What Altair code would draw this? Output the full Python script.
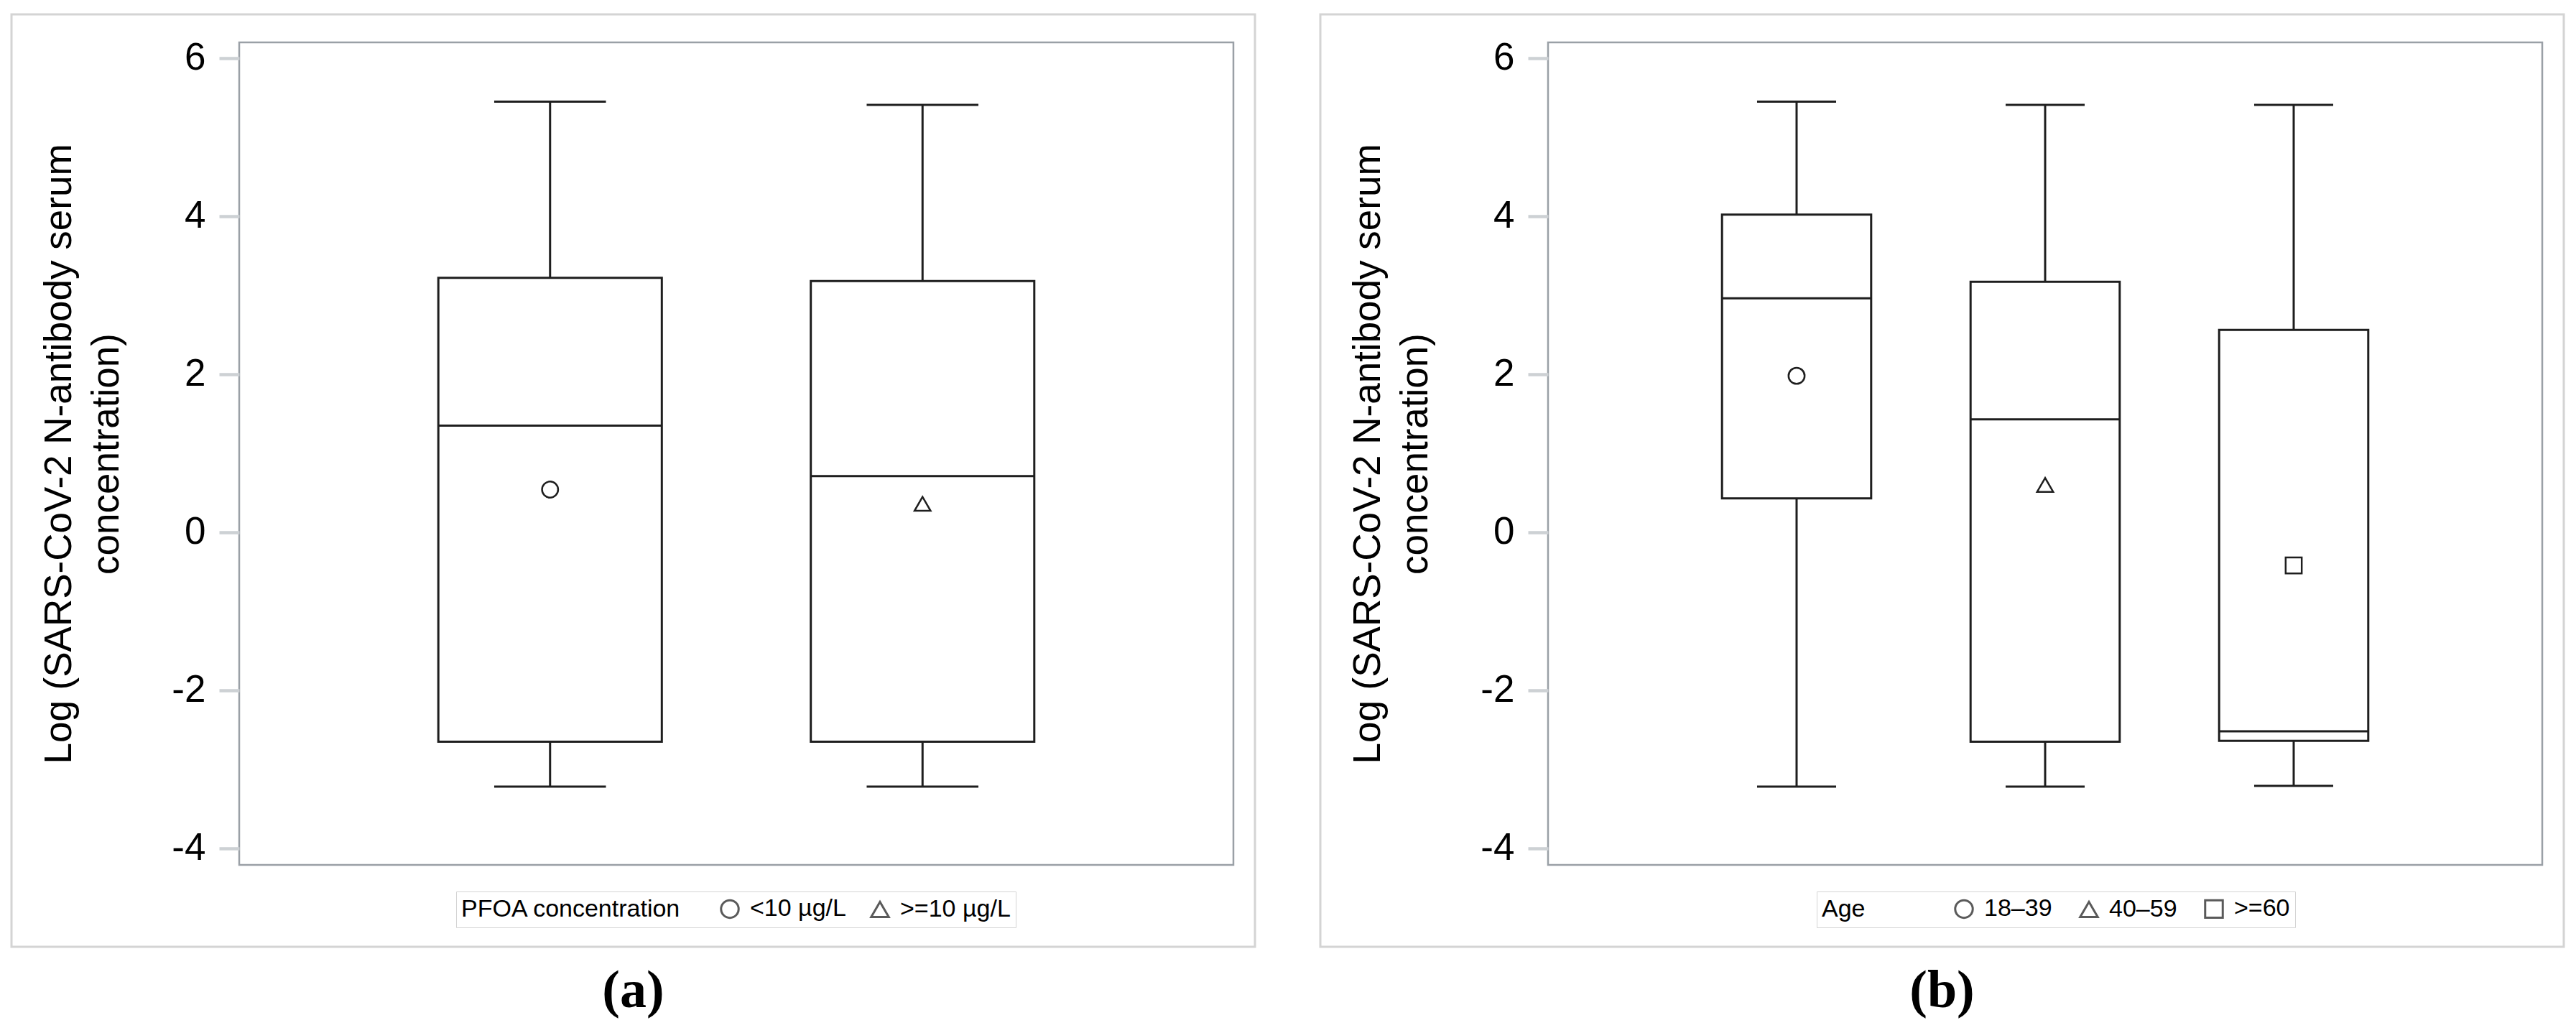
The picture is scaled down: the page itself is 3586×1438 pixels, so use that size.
import altair as alt
import pandas as pd

# ---------------- data ----------------
# Panel (a): PFOA concentration groups
pfoa_groups = ["<10 µg/L", ">=10 µg/L"]
pfoa_low = [-3.22, -3.22]
pfoa_q1 = [-2.65, -2.65]
pfoa_median = [1.35, 0.71]
pfoa_mean = [0.54, 0.36]
pfoa_q3 = [3.22, 3.18]
pfoa_high = [5.45, 5.41]

# Panel (b): age groups
age_groups = ["18–39", "40–59", ">=60"]
age_low = [-3.22, -3.22, -3.21]
age_q1 = [0.43, -2.65, -2.64]
age_median = [2.96, 1.43, -2.52]
age_mean = [1.98, 0.60, -0.42]
age_q3 = [4.02, 3.17, 2.56]
age_high = [5.45, 5.41, 5.41]

y_ticks = [-4, -2, 0, 2, 4, 6]
y_title = ["Log (SARS-CoV-2 N-antibody serum", "concentration)"]

# ---------------- styling ----------------
W, H = 1384, 1145
Y_DOMAIN = [-4.21, 6.2]
SANS = "Liberation Sans, Arial, Helvetica, sans-serif"
SERIF = "Liberation Serif, Times New Roman, serif"
LINE = "#1e1e1e"
PAD_INNER = 0.4


def panel(groups, low, q1, med, mean, q3, high, shapes, pad_outer,
          legend_title, legend_x, legend_title_pad, legend_col_pad,
          cap_frac, label):
    df = pd.DataFrame({"group": groups, "low": low, "q1": q1, "median": med,
                       "mean": mean, "q3": q3, "high": high})
    n = len(groups)
    step = W / (n - PAD_INNER + 2 * pad_outer)
    box_w = step * (1 - PAD_INNER)
    cap_w = box_w * cap_frac

    xenc = alt.X("group:N", sort=groups,
                 scale=alt.Scale(domain=groups, paddingInner=PAD_INNER,
                                 paddingOuter=pad_outer),
                 axis=None)
    yscale = alt.Scale(domain=Y_DOMAIN, nice=False, zero=False)
    yaxis = alt.Axis(values=y_ticks, grid=False, domain=False,
                     tickColor="#cdd1d4", tickWidth=4.5, tickSize=28,
                     labelFont=SANS, labelFontSize=53, labelColor="black",
                     labelPadding=19,
                     labelExpr="datum.value < 0 ? '-' + abs(datum.value) : datum.label",
                     title=y_title, titleFont=SANS, titleFontSize=53,
                     titleFontWeight="normal", titleColor="black",
                     titleLineHeight=66, titleAngle=-90, titleBaseline="bottom",
                     titleAlign="center", titleX=-224, titleY=H / 2)

    base = alt.Chart(df)

    frame = alt.Chart(alt.Data(values=[{"f": 1}])).mark_rect(
        filled=False, color="#d4d4d4", strokeWidth=3
    ).encode(x=alt.value(-317), x2=alt.value(W + 30),
             y=alt.value(-39), y2=alt.value(H + 114))

    whisk_lo = base.mark_rule(color=LINE, strokeWidth=3).encode(
        x=xenc, y=alt.Y("low:Q", scale=yscale, axis=yaxis), y2="q1:Q")
    whisk_hi = base.mark_rule(color=LINE, strokeWidth=3).encode(
        x=xenc, y=alt.Y("q3:Q", scale=yscale, axis=yaxis), y2="high:Q")
    box = base.mark_bar(fill="white", stroke=LINE, strokeWidth=3).encode(
        x=xenc, y=alt.Y("q1:Q", scale=yscale, axis=yaxis), y2="q3:Q")
    cap_lo = base.mark_tick(color=LINE, size=cap_w, thickness=3, opacity=1).encode(
        x=xenc, y=alt.Y("low:Q", scale=yscale, axis=yaxis))
    cap_hi = base.mark_tick(color=LINE, size=cap_w, thickness=3, opacity=1).encode(
        x=xenc, y=alt.Y("high:Q", scale=yscale, axis=yaxis))
    median = base.mark_tick(color=LINE, size=box_w, thickness=3, opacity=1).encode(
        x=xenc, y=alt.Y("median:Q", scale=yscale, axis=yaxis))
    mean_pts = base.mark_point(filled=False, color=LINE, size=500,
                               strokeWidth=2.5, opacity=1).encode(
        x=xenc,
        y=alt.Y("mean:Q", scale=yscale, axis=yaxis),
        shape=alt.Shape(
            "group:N",
            scale=alt.Scale(domain=groups, range=shapes),
            legend=alt.Legend(
                title=legend_title, orient="none", legendX=legend_x,
                legendY=1182, direction="horizontal", titleOrient="left",
                titleFont=SANS, titleFontSize=34, titleFontWeight="normal",
                titleColor="black", titlePadding=legend_title_pad,
                titleLimit=2000, labelLimit=2000,
                labelFont=SANS, labelFontSize=34, labelColor="black",
                labelOffset=11, columnPadding=legend_col_pad, symbolSize=600,
                symbolStrokeWidth=3, symbolStrokeColor="#5a5a5a",
                padding=7, strokeColor="#d4d4d4",
            ),
        ),
    )

    return alt.layer(frame, whisk_lo, whisk_hi, box, cap_lo, cap_hi, median,
                     mean_pts).properties(
        width=W, height=H,
        title=alt.TitleParams(label, orient="bottom", anchor="middle",
                              frame="bounds", font=SERIF, fontSize=74,
                              fontWeight="bold", color="black", offset=24),
    )


left = panel(pfoa_groups, pfoa_low, pfoa_q1, pfoa_median, pfoa_mean, pfoa_q3,
             pfoa_high, ["circle", "triangle-up"], 0.5346,
             "PFOA concentration", 302, 50, 28, 0.5, "(a)")
right = panel(age_groups, age_low, age_q1, age_median, age_mean, age_q3,
              age_high, ["circle", "triangle-up", "square"], 0.7,
              "Age", 374, 120, 32, 0.53, "(b)")

chart = alt.hconcat(left, right, spacing=85).resolve_scale(
    x="independent", y="independent", shape="independent"
).resolve_legend(shape="independent").properties(
    padding={"left": 5, "top": 9, "right": 5, "bottom": 5},
    background="white",
).configure_view(stroke="#9aa0a6", strokeWidth=2.5)

chart.save("out.html", embed_options={"renderer": "svg", "actions": False})
